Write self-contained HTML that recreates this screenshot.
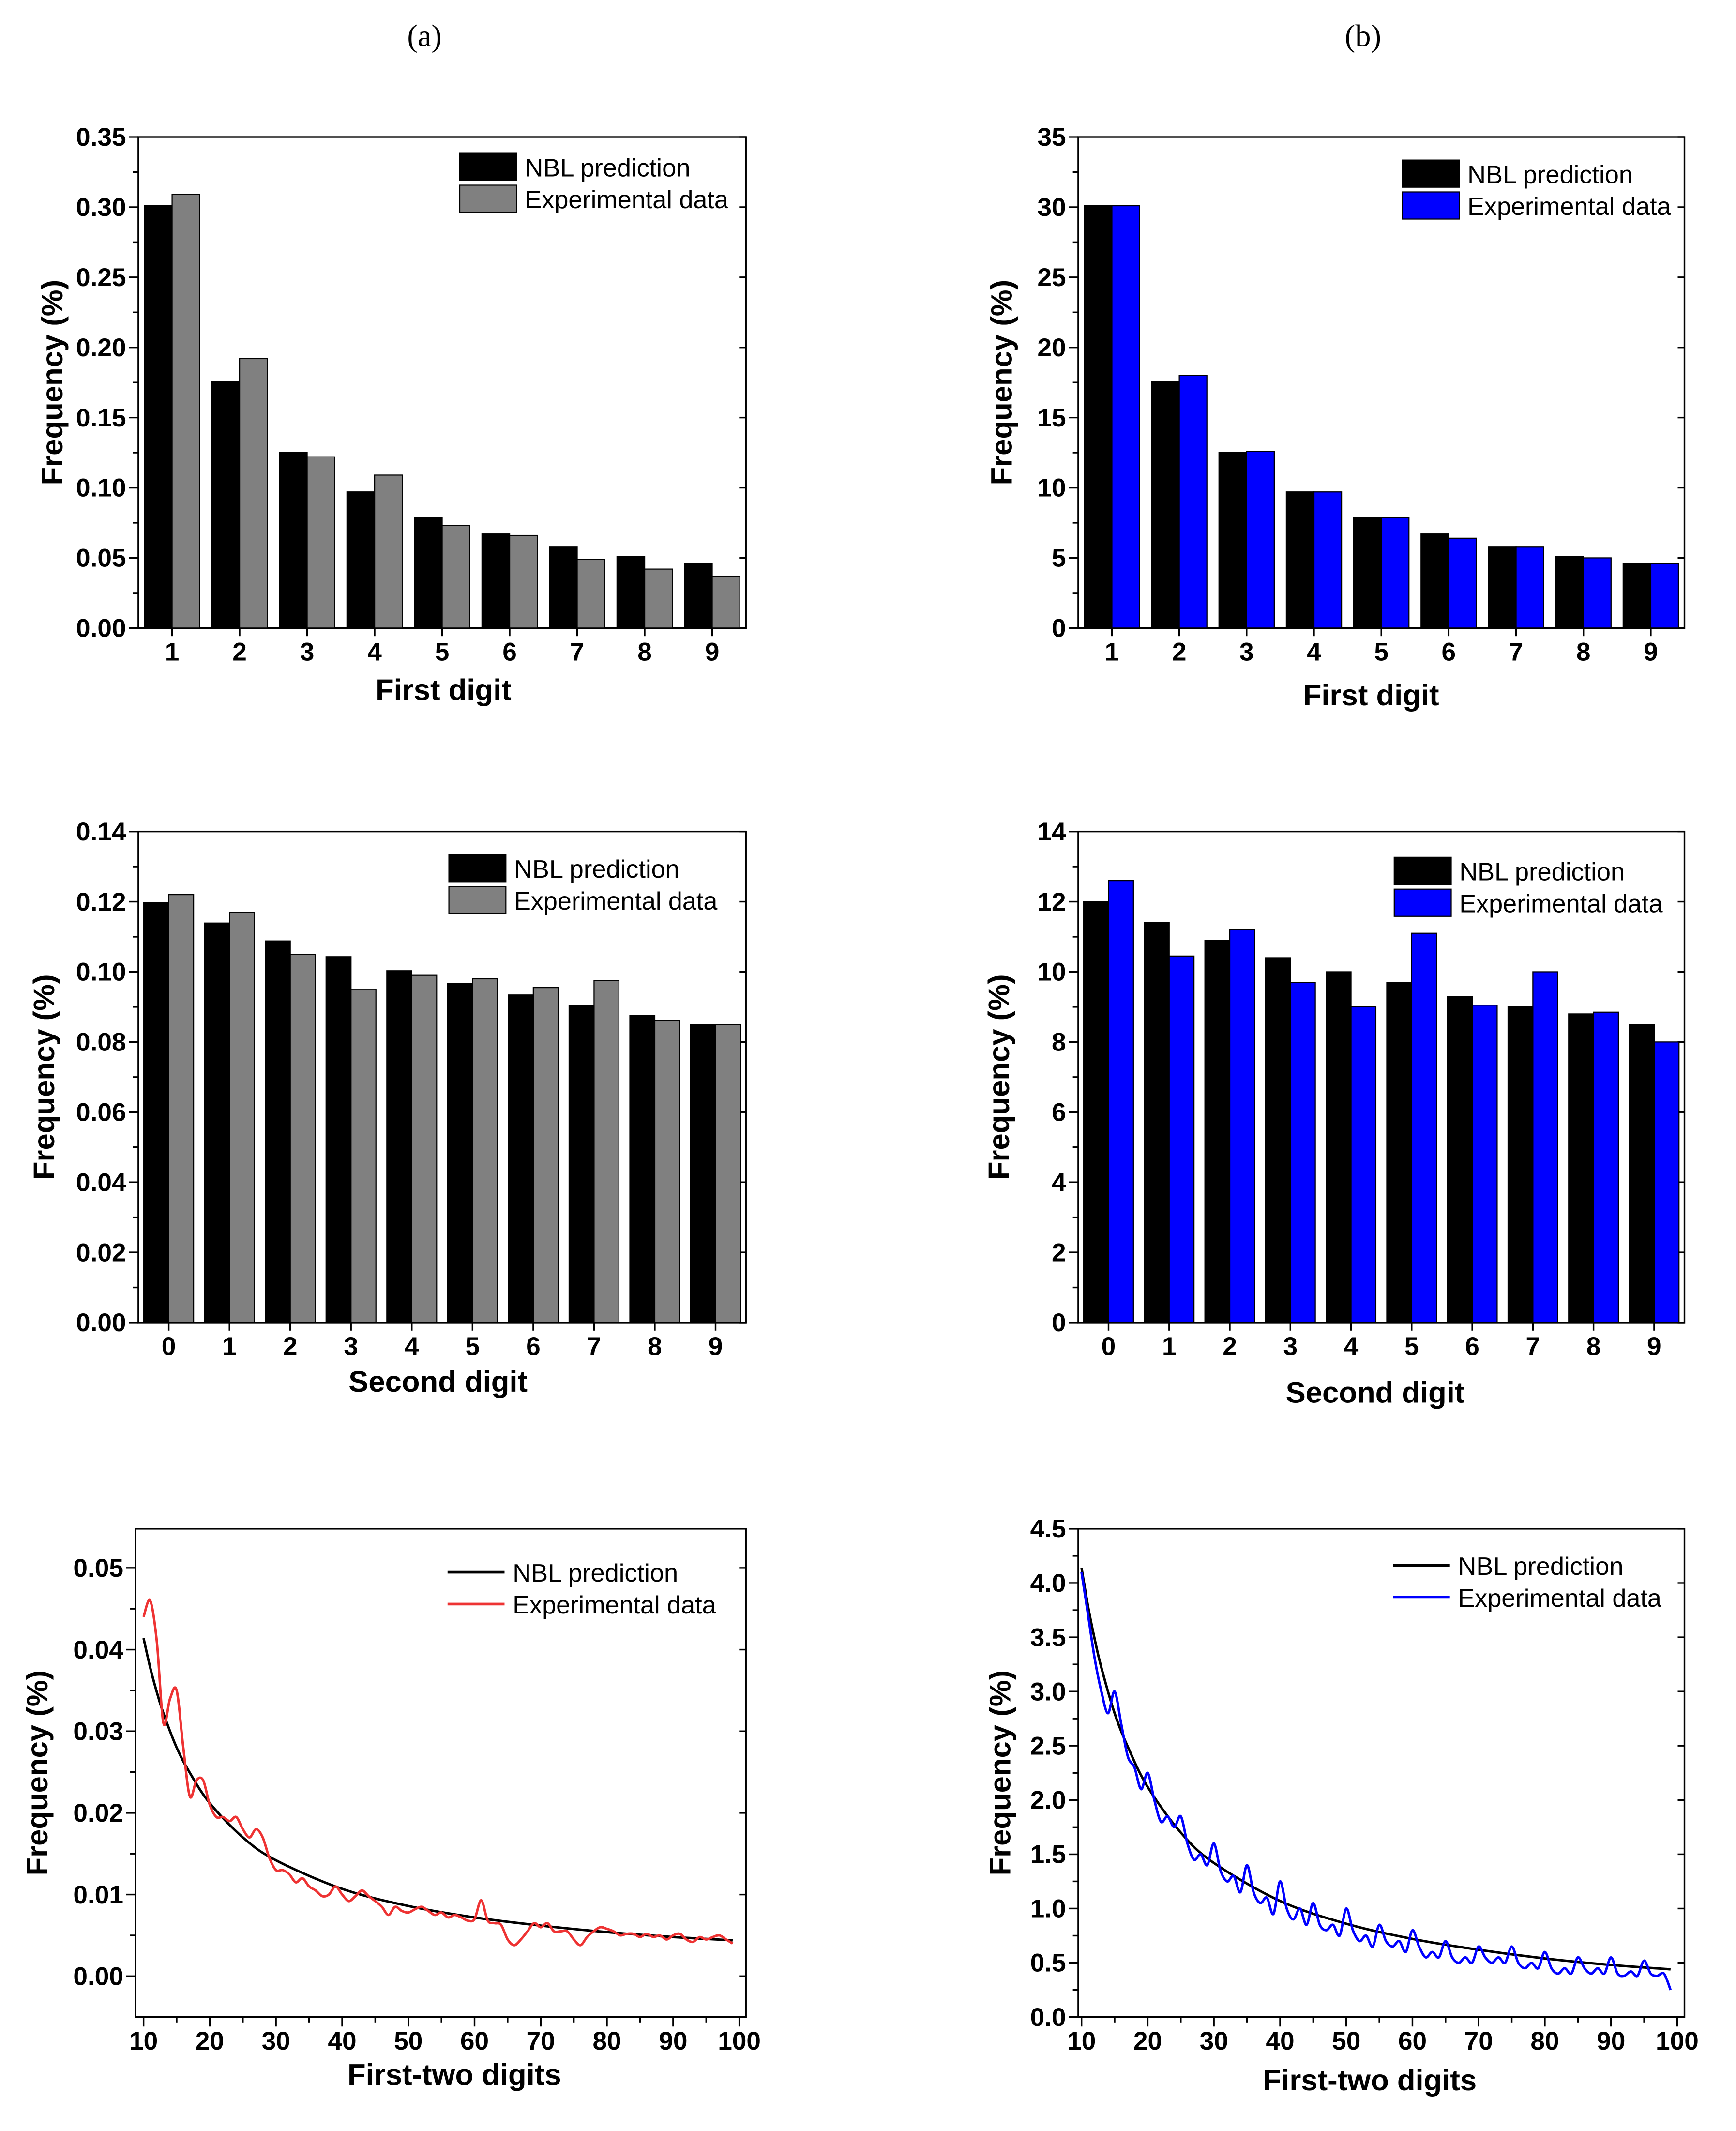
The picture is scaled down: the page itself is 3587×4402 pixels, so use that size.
<!DOCTYPE html>
<html><head><meta charset="utf-8"><style>
html,body{margin:0;padding:0;background:#fff;}
svg{display:block;}
text{font-family:"Liberation Sans",Arial,sans-serif;}
</style></head><body>
<svg id="fig" width="3587" height="4402" viewBox="0 0 1280 1571" preserveAspectRatio="none" xmlns="http://www.w3.org/2000/svg">
<rect width="1280" height="1571" fill="#fff"/>
<text x="313" y="34" font-size="23" text-anchor="middle" style="font-family:'Liberation Serif',serif">(a)</text>
<text x="1005" y="34" font-size="23" text-anchor="middle" style="font-family:'Liberation Serif',serif">(b)</text>
</svg>
<script>
const firstDigits=["1","2","3","4","5","6","7","8","9"];
const secondDigits=["0","1","2","3","4","5","6","7","8","9"];
const tlNBL=[0.301,0.176,0.125,0.097,0.079,0.067,0.058,0.051,0.046];
const tlExp=[0.309,0.192,0.122,0.109,0.073,0.066,0.049,0.042,0.037];
const trNBL=[30.1,17.6,12.5,9.7,7.9,6.7,5.8,5.1,4.6];
const trExp=[30.1,18.0,12.6,9.7,7.9,6.4,5.8,5.0,4.6];
const mlNBL=[0.1197,0.1139,0.1088,0.1043,0.1003,0.0967,0.0934,0.0904,0.0876,0.0850];
const mlExp=[0.122,0.117,0.105,0.095,0.099,0.098,0.0955,0.0975,0.086,0.085];
const mrNBL=[12.0,11.4,10.9,10.4,10.0,9.7,9.3,9.0,8.8,8.5];
const mrExp=[12.6,10.45,11.2,9.7,9.0,11.1,9.05,10.0,8.85,8.0];
const nblX=[10,11,12,13,15,17,20,25,30,40,50,60,70,80,90,99];
const nblFrac=[0.0414,0.0378,0.0348,0.0322,0.0280,0.0249,0.0212,0.0170,0.0142,0.0107,0.0086,0.0072,0.0062,0.0054,0.0048,0.0044];
const nblPct=[4.14,3.78,3.48,3.22,2.80,2.49,2.12,1.70,1.42,1.07,0.86,0.72,0.62,0.54,0.48,0.44];
const redExp=[0.044,0.046,0.041,0.031,0.034,0.035,0.028,0.022,0.024,0.024,0.021,0.0195,0.0195,0.019,0.0195,0.018,0.017,0.018,0.017,0.0145,0.013,0.013,0.0125,0.0115,0.012,0.011,0.0105,0.0098,0.010,0.011,0.010,0.0092,0.0098,0.0105,0.0098,0.0092,0.0085,0.0075,0.0085,0.0080,0.0078,0.0082,0.0085,0.0080,0.0075,0.0078,0.0072,0.0075,0.0072,0.0068,0.0070,0.0093,0.0068,0.0065,0.0063,0.0045,0.0038,0.0045,0.0055,0.0065,0.006,0.0065,0.0055,0.0055,0.0055,0.0045,0.0038,0.0048,0.0055,0.006,0.0058,0.0055,0.0050,0.0052,0.0052,0.0048,0.0052,0.0048,0.0050,0.0045,0.0050,0.0052,0.0045,0.0042,0.0048,0.0045,0.0048,0.0050,0.0045,0.004];
const blueExp=[4.1,3.7,3.3,3.0,2.8,3.0,2.7,2.4,2.3,2.1,2.25,2.0,1.8,1.85,1.75,1.85,1.6,1.45,1.5,1.4,1.6,1.35,1.25,1.3,1.15,1.4,1.15,1.05,1.1,0.95,1.25,1.0,0.9,1.0,0.85,1.05,0.85,0.8,0.85,0.75,1.0,0.8,0.7,0.75,0.65,0.85,0.7,0.65,0.7,0.6,0.8,0.65,0.55,0.6,0.55,0.7,0.55,0.5,0.55,0.5,0.65,0.55,0.5,0.55,0.5,0.65,0.5,0.45,0.5,0.45,0.6,0.45,0.4,0.45,0.4,0.55,0.45,0.4,0.45,0.4,0.55,0.4,0.38,0.42,0.38,0.52,0.4,0.38,0.4,0.25];
const expX=[];for(let d=10;d<=99;d++)expX.push(d);

const NS="http://www.w3.org/2000/svg";
const svg=document.getElementById('fig');
function el(tag,attrs,parent,txt){const e=document.createElementNS(NS,tag);for(const k in attrs)e.setAttribute(k,attrs[k]);if(txt!==undefined)e.textContent=txt;(parent||svg).appendChild(e);return e;}

function axes(p,name){
  const g=el('g',{});
  
  
  const ys=v=>p.y1-(v-p.ymin)/(p.ymax-p.ymin)*(p.y1-p.y0);
  el('rect',{x:p.x0,y:p.y0,width:p.x1-p.x0,height:p.y1-p.y0,fill:'none',stroke:'#000','stroke-width':1.2},g);
  const n=Math.round((p.yTop-p.yStart)/p.ystep);
  for(let i=0;i<=n;i++){
    const v=p.yStart+i*p.ystep,y=ys(v);
    el('line',{x1:p.x0-7,x2:p.x0,y1:y,y2:y,stroke:'#000','stroke-width':1.2},g);
    el('line',{x1:p.x1-5,x2:p.x1,y1:y,y2:y,stroke:'#000','stroke-width':1.2},g);
    const t=el('text',{x:p.x0-9,y:y+6.5,'font-size':19,'font-weight':'bold','text-anchor':'end'},g,v.toFixed(p.dec));
    
    
    if(i<n){const ym=ys(v+p.ystep/2);el('line',{x1:p.x0-4,x2:p.x0,y1:ym,y2:ym,stroke:'#000','stroke-width':1.2},g);}
  }
  const yt=el('text',{x:0,y:0,'font-size':22,'font-weight':'bold','text-anchor':'middle',transform:`translate(${p.ytx},${(p.y0+p.y1)/2}) rotate(-90)`},g,'Frequency (%)');
  
  
  const xt=el('text',{x:p.xtx,y:p.xty,'font-size':22,'font-weight':'bold','text-anchor':'middle'},g,p.xtitle);
  
  
  return ys;
}

function legend(p,cols,isLine,name){
  const g=el('g',{});
  
  
  const labels=['NBL prediction','Experimental data'];
  const lens=[122,150];
  for(let i=0;i<2;i++){
    const y=p.ly+i*23.5;
    if(isLine) el('line',{x1:p.lx,x2:p.lx+42,y1:y+10,y2:y+10,stroke:cols[i],'stroke-width':2},g);
    else el('rect',{x:p.lx,y:y,width:42,height:20,fill:cols[i],stroke:'#000','stroke-width':0.8},g);
    const t=el('text',{x:p.lx+48,y:y+17,'font-size':18.5,textLength:lens[i],lengthAdjust:'spacingAndGlyphs'},g,labels[i]);
    
    
  }
}

function barChart(p,cats,a,b,colB,name){
  const ys=axes(p,name);
  const n=cats.length,sp=(p.x1-p.x0)/n,bw=sp*0.41;
  cats.forEach((c,i)=>{
    const cx=p.x0+(i+0.5)*sp;
    el('line',{x1:cx,x2:cx,y1:p.y1,y2:p.y1+6,stroke:'#000','stroke-width':1.2});
    const t=el('text',{x:cx,y:p.y1+24,'font-size':19,'font-weight':'bold','text-anchor':'middle'},svg,c);
    
    
    const r1=el('rect',{x:cx-bw,y:ys(a[i]),width:bw,height:ys(0)-ys(a[i]),fill:'#000',stroke:'#000','stroke-width':0.8});
    
    
    const r2=el('rect',{x:cx,y:ys(b[i]),width:bw,height:ys(0)-ys(b[i]),fill:colB,stroke:'#000','stroke-width':0.8});
    
    
  });
  legend(p,['#000',colB],false,name);
}

function smoothPath(pts){
  let d=`M${pts[0][0]},${pts[0][1]}`;
  for(let i=0;i<pts.length-1;i++){
    const p0=pts[Math.max(0,i-1)],p1=pts[i],p2=pts[i+1],p3=pts[Math.min(pts.length-1,i+2)];
    const c1=[p1[0]+(p2[0]-p0[0])/6,p1[1]+(p2[1]-p0[1])/6],c2=[p2[0]-(p3[0]-p1[0])/6,p2[1]-(p3[1]-p1[1])/6];
    d+=` C${c1[0]},${c1[1]} ${c2[0]},${c2[1]} ${p2[0]},${p2[1]}`;
  }
  return d;
}

function lineChart(p,nx,ny,ex,ey,col,name){
  const ys=axes(p,name);
  const xs=v=>p.x0+(v-p.xmin)/(p.xmax-p.xmin)*(p.x1-p.x0);
  for(let v=10;v<=100;v+=10){
    const x=xs(v);
    el('line',{x1:x,x2:x,y1:p.y1,y2:p.y1+7,stroke:'#000','stroke-width':1.2});
    if(v<100){const xm=xs(v+5);el('line',{x1:xm,x2:xm,y1:p.y1,y2:p.y1+4,stroke:'#000','stroke-width':1.2});}
    const t=el('text',{x:x,y:p.y1+24,'font-size':19,'font-weight':'bold','text-anchor':'middle'},svg,String(v));
    
    
  }
  const l1=el('path',{d:smoothPath(nx.map((x,i)=>[xs(x),ys(ny[i])])),fill:'none',stroke:'#000','stroke-width':1.8});
  
  
  const l2=el('path',{d:smoothPath(ex.map((x,i)=>[xs(x),ys(ey[i])])),fill:'none',stroke:col,'stroke-width':1.8});
  
  
  legend(p,['#000',col],true,name);
}

barChart({x0:102,x1:550,y0:101,y1:463,ymin:0,ymax:0.35,yStart:0,yTop:0.35,ystep:0.05,dec:2,ytx:46,xtx:327,xty:516,xtitle:'First digit',lx:339,ly:113},firstDigits,tlNBL,tlExp,'#808080','first-digit-a');
barChart({x0:795,x1:1242,y0:101,y1:463,ymin:0,ymax:35,yStart:0,yTop:35,ystep:5,dec:0,ytx:746,xtx:1011,xty:520,xtitle:'First digit',lx:1034,ly:118},firstDigits,trNBL,trExp,'#0000ff','first-digit-b');
barChart({x0:102,x1:550,y0:613,y1:975,ymin:0,ymax:0.14,yStart:0,yTop:0.14,ystep:0.02,dec:2,ytx:40,xtx:323,xty:1026,xtitle:'Second digit',lx:331,ly:630},secondDigits,mlNBL,mlExp,'#808080','second-digit-a');
barChart({x0:795,x1:1242,y0:613,y1:975,ymin:0,ymax:14,yStart:0,yTop:14,ystep:2,dec:0,ytx:744,xtx:1014,xty:1034,xtitle:'Second digit',lx:1028,ly:632},secondDigits,mrNBL,mrExp,'#0000ff','second-digit-b');
lineChart({x0:100,x1:550,y0:1127,y1:1487,xmin:8.8,xmax:101,ymin:-0.005,ymax:0.0548,yStart:0,yTop:0.05,ystep:0.01,dec:2,ytx:35,xtx:335,xty:1537,xtitle:'First-two digits',lx:330,ly:1149},nblX,nblFrac,expX,redExp,'#ee3333','first-two-a');
lineChart({x0:795,x1:1242,y0:1127,y1:1487,xmin:9.5,xmax:101.1,ymin:0,ymax:4.5,yStart:0,yTop:4.5,ystep:0.5,dec:1,ytx:745,xtx:1010,xty:1541,xtitle:'First-two digits',lx:1027,ly:1144},nblX,nblPct,expX,blueExp,'#0000ff','first-two-b');
</script>
</body></html>
